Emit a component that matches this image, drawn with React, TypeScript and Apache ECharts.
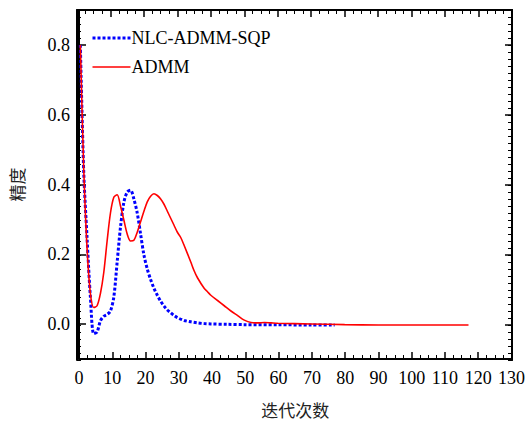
import React, { useEffect, useRef } from "react";
import * as echarts from "echarts";

const xTickLabels = ["0", "10", "20", "30", "40", "50", "60", "70", "80", "90", "100", "110", "120", "130"];
const yMajorTicks = [0, 0.2, 0.4, 0.6, 0.8];

const sqpX = [1, 2, 3, 4, 5, 6, 7, 8, 9, 10, 11, 12, 13, 14, 15, 16, 17, 18, 19, 20, 21, 22, 23, 24, 25, 26, 27, 28, 29, 30, 32, 34, 36, 38, 40, 45, 50, 60, 70, 77];
const sqpY = [0.8, 0.44, 0.25, 0.08, -0.025, -0.02, 0.012, 0.025, 0.03, 0.04, 0.08, 0.18, 0.28, 0.35, 0.38, 0.385, 0.36, 0.32, 0.26, 0.2, 0.16, 0.13, 0.105, 0.085, 0.068, 0.054, 0.043, 0.035, 0.027, 0.021, 0.013, 0.009, 0.006, 0.004, 0.003, 0.002, 0.001, 0.0005, 0.0002, 0];

const admmX = [1, 2, 3, 4, 5, 6, 7, 8, 9, 10, 11, 12, 13, 14, 15, 16, 17, 18, 19, 20, 21, 22, 23, 24, 25, 26, 27, 28, 29, 30, 31, 32, 34, 35, 36, 38, 39, 40, 42, 44, 46, 48, 50, 52, 54, 56, 58, 60, 70, 80, 90, 117];
const admmY = [0.8, 0.45, 0.22, 0.09, 0.05, 0.055, 0.09, 0.15, 0.24, 0.32, 0.365, 0.372, 0.34, 0.3, 0.26, 0.24, 0.242, 0.265, 0.295, 0.325, 0.352, 0.368, 0.375, 0.37, 0.36, 0.345, 0.325, 0.305, 0.285, 0.265, 0.25, 0.228, 0.18, 0.155, 0.135, 0.105, 0.095, 0.085, 0.07, 0.055, 0.04, 0.027, 0.014, 0.007, 0.006, 0.007, 0.006, 0.005, 0.003, 0.001, 0, 0];

const seriesNames = ["NLC-ADMM-SQP", "ADMM"];
const seriesColors = ["#0000ff", "#ff0000"];

const serif = "Liberation Serif";
const cjk = "Noto Sans CJK SC";

const X_MIN = 0;
const X_MAX = 130;
const Y_MIN = -0.1;
const Y_MAX = 0.9;

const rect = { left: 77, right: 16, top: 10, bottom: 63 };

function hiddenX(g: number) {
  return { gridIndex: g, type: "value", min: X_MIN, max: X_MAX, show: false };
}
function hiddenY(g: number) {
  return { gridIndex: g, type: "value", min: Y_MIN, max: Y_MAX, show: false };
}

function frameX(g: number, pos: "bottom" | "top", labels: boolean) {
  return {
    gridIndex: g,
    type: "value",
    position: pos,
    min: X_MIN,
    max: X_MAX,
    interval: 10,
    splitLine: { show: false },
    axisLine: { show: true, onZero: false, lineStyle: { color: "#000", width: 2 } },
    axisTick: { show: true, inside: true, length: 7, lineStyle: { color: "#000", width: 1.5 } },
    minorTick: { show: true, splitNumber: 4, length: 4, lineStyle: { color: "#000", width: 1 } },
    axisLabel: labels
      ? { fontFamily: serif, fontSize: 18, color: "#000", margin: 10, formatter: (v: number) => xTickLabels[Math.round(v / 10)] ?? "" }
      : { show: false },
  };
}

function frameY(g: number, pos: "left" | "right", ticks: number[], len: number, labels: boolean) {
  return {
    gridIndex: g,
    type: "value",
    position: pos,
    min: Y_MIN,
    max: Y_MAX,
    splitLine: { show: false },
    axisLine: { show: true, onZero: false, lineStyle: { color: "#000", width: 2 } },
    axisTick: { show: true, inside: true, length: len, customValues: ticks, lineStyle: { color: "#000", width: len > 5 ? 1.5 : 1 } },
    axisLabel: labels
      ? { fontFamily: serif, fontSize: 18, color: "#000", margin: 9, customValues: yMajorTicks, formatter: (v: number) => v.toFixed(1) }
      : { show: false },
  };
}

export default function App() {
  const ref = useRef<HTMLDivElement>(null);
  useEffect(() => {
    if (!ref.current) return;
    const chart = echarts.init(ref.current, undefined, { renderer: "svg" });
    const yMinor: number[] = [];
    for (let i = -5; i <= 45; i++) yMinor.push(Math.round(i * 2) / 100);

    const legendItems = seriesNames.map((name, i) => ({
      type: "group",
      left: 90,
      top: 29 + i * 29,
      children: [
        {
          type: "line",
          shape: { x1: 0, y1: 9, x2: 38, y2: 9 },
          style: i === 0
            ? { stroke: seriesColors[i], lineWidth: 3, lineDash: [3, 2] }
            : { stroke: seriesColors[i], lineWidth: 1.6 },
        },
        {
          type: "text",
          x: 39,
          y: 9,
          style: { text: name, font: "18px " + serif, fill: "#000", verticalAlign: "middle" },
        },
      ],
    }));

    chart.setOption({
      animation: false,
      grid: [
        { ...rect }, // 0: data
        { ...rect }, // 1: bottom + left with labels
        { ...rect }, // 2: top + right major
        { ...rect }, // 3: minor y ticks
      ],
      graphic: legendItems,
      xAxis: [
        hiddenX(0),
        {
          ...frameX(1, "bottom", true),
          name: "迭代次数",
          nameLocation: "middle",
          nameGap: 42,
          nameTextStyle: { fontFamily: cjk, fontSize: 17, color: "#222" },
        },
        frameX(2, "top", false),
        hiddenX(3),
      ],
      yAxis: [
        hiddenY(0),
        {
          ...frameY(1, "left", yMajorTicks, 7, true),
          name: "精度",
          nameLocation: "middle",
          nameGap: 54,
          nameRotate: 90,
          nameTextStyle: { fontFamily: cjk, fontSize: 17, color: "#222" },
        },
        frameY(2, "right", yMajorTicks, 7, false),
        frameY(3, "left", yMinor, 4, false),
        frameY(3, "right", yMinor, 4, false),
      ],
      series: [
        {
          name: seriesNames[0],
          type: "line",
          xAxisIndex: 0,
          yAxisIndex: 0,
          data: sqpX.map((x, i) => [x, sqpY[i]]),
          symbol: "none",
          smooth: 0.3,
          lineStyle: { color: seriesColors[0], width: 3, type: [3, 2] },
          itemStyle: { color: seriesColors[0] },
        },
        {
          name: seriesNames[1],
          type: "line",
          xAxisIndex: 0,
          yAxisIndex: 0,
          data: admmX.map((x, i) => [x, admmY[i]]),
          symbol: "none",
          smooth: 0.3,
          lineStyle: { color: seriesColors[1], width: 1.6 },
          itemStyle: { color: seriesColors[1] },
        },
      ],
    });
    return () => chart.dispose();
  }, []);
  return <div ref={ref} style={{ width: 528, height: 423, position: "absolute", left: 0, top: 0 }} />;
}
